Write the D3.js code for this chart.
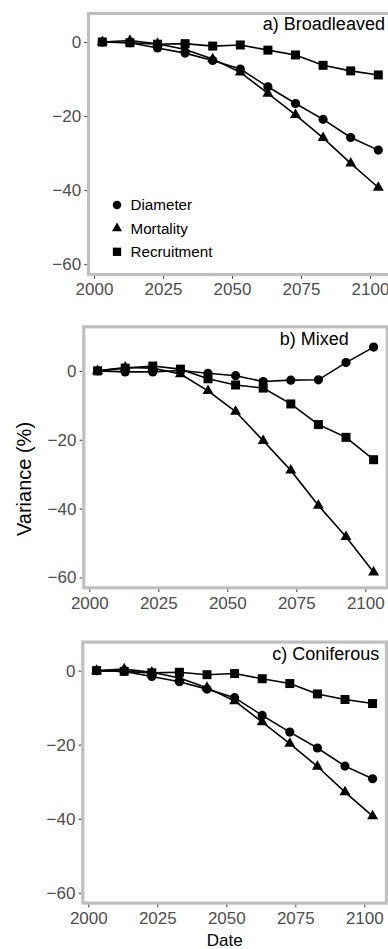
<!DOCTYPE html>
<html>
<head>
<meta charset="utf-8">
<script src="https://cdn.jsdelivr.net/npm/d3@7"></script>
<style>
  body { margin: 0; background: #fff; }
  svg { display: block; font-family: "Liberation Sans", Arial, sans-serif; }
</style>
</head>
<body>
<svg id="chart" width="388" height="949"></svg>
<script>
const years = [2003, 2013, 2023, 2033, 2043, 2053, 2063, 2073, 2083, 2093, 2103];
const seriesNames = ["Diameter", "Mortality", "Recruitment"];

const broadDiameter = [0, -0.2, -1.6, -3, -5, -7.3, -12.1, -16.6, -20.9, -25.8, -29.2];
const broadMortality = [0, 0.4, -0.45, -2, -4.6, -8.2, -13.9, -19.7, -25.9, -32.8, -39.3];
const broadRecruitment = [0, -0.2, -0.6, -0.45, -1.1, -0.8, -2.2, -3.5, -6.3, -7.8, -8.9];

const mixedDiameter = [0, -0.3, -0.3, 0.1, -0.7, -1.4, -3.1, -2.7, -2.6, 2.4, 6.9];
const mixedMortality = [0, 1.0, 0.8, -0.9, -5.8, -11.8, -20.3, -28.9, -39.1, -48.2, -58.5];
const mixedRecruitment = [0, 0.8, 1.4, 0.5, -2.3, -4.1, -5.0, -9.6, -15.6, -19.3, -25.8];

const conifDiameter = [0, -0.2, -1.6, -3, -5, -7.3, -12.1, -16.6, -20.9, -25.8, -29.2];
const conifMortality = [0, 0.4, -0.45, -2, -4.6, -8.2, -13.9, -19.7, -25.9, -32.8, -39.3];
const conifRecruitment = [0, -0.2, -0.6, -0.45, -1.1, -0.8, -2.2, -3.5, -6.3, -7.8, -8.9];

const xTicks = [2000, 2025, 2050, 2075, 2100];
const yTicks = [-60, -40, -20, 0];

const panels = [
    { label: "a) Broadleaved", series: [broadDiameter, broadMortality, broadRecruitment],
      left: 88.5, top: 13.5, yDomain: [-62.8, 7.7], labelAt: [2105.4, 3.2], legend: true },
    { label: "b) Mixed", series: [mixedDiameter, mixedMortality, mixedRecruitment],
      left: 83.8, top: 326.8, yDomain: [-63, 12.8], labelAt: [2094, 7.5], legend: false },
    { label: "c) Coniferous", series: [conifDiameter, conifMortality, conifRecruitment],
      left: 82.8, top: 642.1, yDomain: [-62.8, 7.7], labelAt: [2105.4, 2.9], legend: false }
];

const panelW = 303.6, panelH = 261;
const shapes = [d3.symbolCircle, d3.symbolTriangle, d3.symbolSquare];
const sizes = [66, 52, 81];

const svg = d3.select("#chart");

panels.forEach((p) => {
    const x = d3.scaleLinear().domain([1998, 2108]).range([p.left, p.left + panelW]);
    const y = d3.scaleLinear().domain(p.yDomain).range([p.top + panelH, p.top]);

    const g = svg.append("g");

    g.append("rect")
        .attr("x", p.left)
        .attr("y", p.top)
        .attr("width", panelW)
        .attr("height", panelH)
        .attr("fill", "#fff");

    const line = d3.line()
        .x((d, i) => x(years[i]))
        .y((d) => y(d));

    p.series.forEach((s) => {
        g.append("path")
            .attr("d", line(s))
            .attr("fill", "none")
            .attr("stroke", "#000")
            .attr("stroke-width", 1.6);
    });

    p.series.forEach((s, k) => {
        g.selectAll(null)
            .data(s)
            .enter()
            .append("path")
            .attr("d", d3.symbol().type(shapes[k]).size(sizes[k]))
            .attr("transform", (d, i) => `translate(${x(years[i])},${y(d)})`)
            .attr("fill", "#000");
    });

    g.append("rect")
        .attr("x", p.left)
        .attr("y", p.top)
        .attr("width", panelW)
        .attr("height", panelH)
        .attr("fill", "none")
        .attr("stroke", "#BFBFBF")
        .attr("stroke-width", 3.2);

    const xAxis = g.append("g")
        .attr("transform", `translate(0,${p.top + panelH + 1.6})`)
        .call(d3.axisBottom(x).tickValues(xTicks).tickFormat(d3.format("d")).tickSize(2.6).tickPadding(4.6));

    const yAxis = g.append("g")
        .attr("transform", `translate(${p.left - 1.6},0)`)
        .call(d3.axisLeft(y).tickValues(yTicks).tickSize(2.6).tickPadding(3.2));

    [xAxis, yAxis].forEach((a) => {
        a.select(".domain").remove();
        a.selectAll("line").attr("stroke", "#333");
        a.selectAll("text")
            .attr("fill", "#4D4D4D")
            .style("font-size", "17px")
            .style("font-family", "'Liberation Sans', Arial, sans-serif");
    });

    g.append("text")
        .attr("x", x(p.labelAt[0]))
        .attr("y", y(p.labelAt[1]))
        .attr("text-anchor", "end")
        .style("font-size", "18px")
        .attr("fill", "#000")
        .text(p.label);

    if (p.legend) {
        const lg = g.append("g");
        seriesNames.forEach((name, k) => {
            const ly = 205 + k * 23.4;
            lg.append("path")
                .attr("d", d3.symbol().type(shapes[k]).size(sizes[k] * 0.85))
                .attr("transform", `translate(117,${ly})`)
                .attr("fill", "#000");
            lg.append("text")
                .attr("x", 130.5)
                .attr("y", ly + 5.3)
                .style("font-size", "15.2px")
                .attr("fill", "#000")
                .text(name);
        });
    }
});

svg.append("text")
    .attr("transform", "translate(31,479) rotate(-90)")
    .attr("text-anchor", "middle")
    .style("font-size", "20px")
    .attr("fill", "#000")
    .text("Variance (%)");

svg.append("text")
    .attr("x", 224.7)
    .attr("y", 946)
    .attr("text-anchor", "middle")
    .style("font-size", "17px")
    .attr("fill", "#000")
    .text("Date");
</script>
</body>
</html>
